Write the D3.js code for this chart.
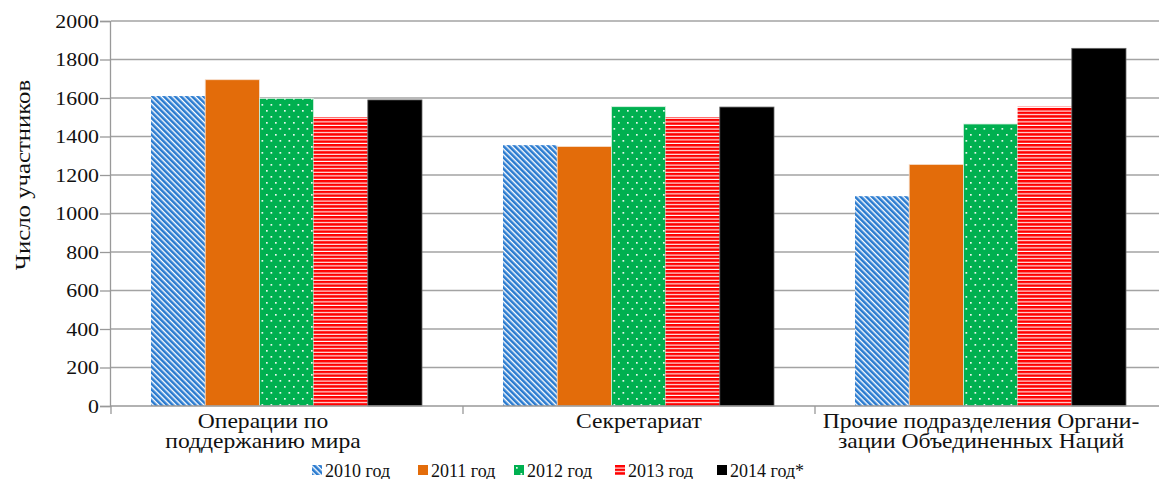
<!DOCTYPE html>
<html>
<head>
<meta charset="utf-8">
<script src="https://cdn.jsdelivr.net/npm/d3@7/dist/d3.min.js"></script>
<style>
  html, body { margin: 0; padding: 0; background: #fff; }
  svg { display: block; }
</style>
</head>
<body>
<svg id="chart" width="1159" height="479"></svg>
<script>
// Participants by organisational unit, 2010–2014
const categories = ["Операции по поддержанию мира", "Секретариат", "Прочие подразделения Организации Объединенных Наций"];
const categoryLines = [["Операции по", "поддержанию мира"], ["Секретариат"], ["Прочие подразделения Органи-", "зации Объединенных Наций"]];
const series = ["2010 год", "2011 год", "2012 год", "2013 год", "2014 год*"];
const values2010 = [1610, 1355, 1090];
const values2011 = [1695, 1348, 1255];
const values2012 = [1598, 1555, 1465];
const values2013 = [1500, 1500, 1555];
const values2014 = [1590, 1553, 1858];
const yTicks = [0, 200, 400, 600, 800, 1000, 1200, 1400, 1600, 1800, 2000];
const yTitle = "Число участников";

const FONT = "Liberation Serif";

const seriesValues = [values2010, values2011, values2012, values2013, values2014];
const rows = categories.map((c, i) => ({
  category: c,
  lines: categoryLines[i],
  bars: series.map((s, j) => ({ series: s, idx: j, value: seriesValues[j][i] }))
}));

const svg = d3.select("#chart");
const W = 1159;
const plot = { left: 111, top: 21, bottom: 406, right: 1167 };

const x0 = d3.scaleBand().domain(categories).range([plot.left, plot.right]).padding(0);
const x1 = d3.scaleBand().domain(series).range([40, 311]).padding(0);
const y = d3.scaleLinear().domain([0, 2000]).range([plot.bottom, plot.top]);

// fill patterns
const defs = svg.append("defs");
const pDiag = defs.append("pattern").attr("id", "p2010").attr("patternUnits", "userSpaceOnUse")
  .attr("width", 4).attr("height", 4).attr("patternTransform", "rotate(-45)");
pDiag.append("rect").attr("width", 4).attr("height", 4).attr("fill", "#fff");
pDiag.append("rect").attr("width", 2.6).attr("height", 4).attr("fill", "#2a7bd0");

const pDots = defs.append("pattern").attr("id", "p2012").attr("patternUnits", "userSpaceOnUse")
  .attr("width", 9).attr("height", 12);
pDots.append("rect").attr("width", 9).attr("height", 12).attr("fill", "#00b050");
pDots.append("rect").attr("x", 2).attr("y", 2).attr("width", 1.7).attr("height", 1.7).attr("fill", "#e6f8ed");
pDots.append("rect").attr("x", 6.5).attr("y", 8).attr("width", 1.7).attr("height", 1.7).attr("fill", "#e6f8ed");

const pHor = defs.append("pattern").attr("id", "p2013").attr("patternUnits", "userSpaceOnUse")
  .attr("width", 8).attr("height", 3.6);
pHor.append("rect").attr("width", 8).attr("height", 3.6).attr("fill", "#fff");
pHor.append("rect").attr("width", 8).attr("height", 2.5).attr("fill", "#ff0000");

const fills = ["url(#p2010)", "#e36c0a", "url(#p2012)", "url(#p2013)", "#000"];
const strokes = ["none", "#f6e0cf", "#d9f2e3", "none", "#666"];

// gridlines
svg.append("g").selectAll("line").data(yTicks.filter(t => t > 0)).join("line")
  .attr("x1", plot.left).attr("x2", W)
  .attr("y1", d => y(d)).attr("y2", d => y(d))
  .attr("stroke", "#a3a3a3").attr("stroke-width", 1.5);

// bars
const groups = svg.append("g").selectAll("g").data(rows).join("g")
  .attr("transform", d => `translate(${x0(d.category)},0)`);
groups.selectAll("rect").data(d => d.bars).join("rect")
  .attr("x", d => x1(d.series))
  .attr("width", x1.bandwidth())
  .attr("y", d => y(d.value))
  .attr("height", d => y(0) - y(d.value))
  .attr("fill", d => fills[d.idx])
  .attr("stroke", d => strokes[d.idx])
  .attr("stroke-width", 0.8);

// y axis
const yAxis = svg.append("g").attr("transform", `translate(${plot.left - 1},0)`)
  .call(d3.axisLeft(y).tickValues(yTicks).tickSize(10).tickFormat(d3.format("d")))
  .attr("font-family", FONT).attr("font-size", 19);
yAxis.select(".domain").attr("stroke", "#999").attr("stroke-width", 1.3);
yAxis.selectAll(".tick line").attr("stroke", "#999").attr("stroke-width", 1.3);
yAxis.selectAll(".tick text")
  .attr("x", null).attr("dy", "0.34em")
  .attr("transform", "translate(-11,0) scale(1.15,1)")
  .attr("fill", "#111");

// x axis
const xAxis = svg.append("g").attr("transform", `translate(0,${plot.bottom})`);
xAxis.append("line").attr("x1", plot.left - 1).attr("x2", W).attr("y1", 0).attr("y2", 0)
  .attr("stroke", "#999").attr("stroke-width", 1.3);
xAxis.selectAll("line.tk").data(categories.concat([null])).join("line").attr("class", "tk")
  .attr("x1", (d, i) => i < categories.length ? x0(d) : plot.right)
  .attr("x2", (d, i) => i < categories.length ? x0(d) : plot.right)
  .attr("y1", 0).attr("y2", 8).attr("stroke", "#999").attr("stroke-width", 1.3);

// category labels (wrapped, as in the source layout)
const labelShift = [-24, 0, -10];
const catLabels = svg.append("g").selectAll("text").data(rows).join("text")
  .attr("text-anchor", "middle")
  .attr("font-family", FONT).attr("font-size", 20).attr("fill", "#111")
  .attr("transform", (d, i) => `translate(${x0(d.category) + x0.bandwidth() / 2 + labelShift[i]},428) scale(1.18,1)`);
catLabels.selectAll("tspan").data(d => d.lines).join("tspan")
  .attr("x", 0).attr("dy", (d, i) => i === 0 ? 0 : 20).text(d => d);

// y title
svg.append("text").attr("transform", "translate(30,175) rotate(-90) scale(1.18,1)")
  .attr("text-anchor", "middle")
  .attr("font-family", FONT).attr("font-size", 21).attr("fill", "#111")
  .text(yTitle);

// legend
const legendX = [312, 418, 514, 615, 717];
const legend = svg.append("g").selectAll("g").data(series).join("g")
  .attr("transform", (d, i) => `translate(${legendX[i]},465)`);
legend.append("rect").attr("width", 10).attr("height", 10)
  .attr("fill", (d, i) => fills[i]);
legend.append("text").attr("x", 13).attr("y", 11.5)
  .attr("font-family", FONT).attr("font-size", 18).attr("fill", "#111")
  .text(d => d);
</script>
</body>
</html>
